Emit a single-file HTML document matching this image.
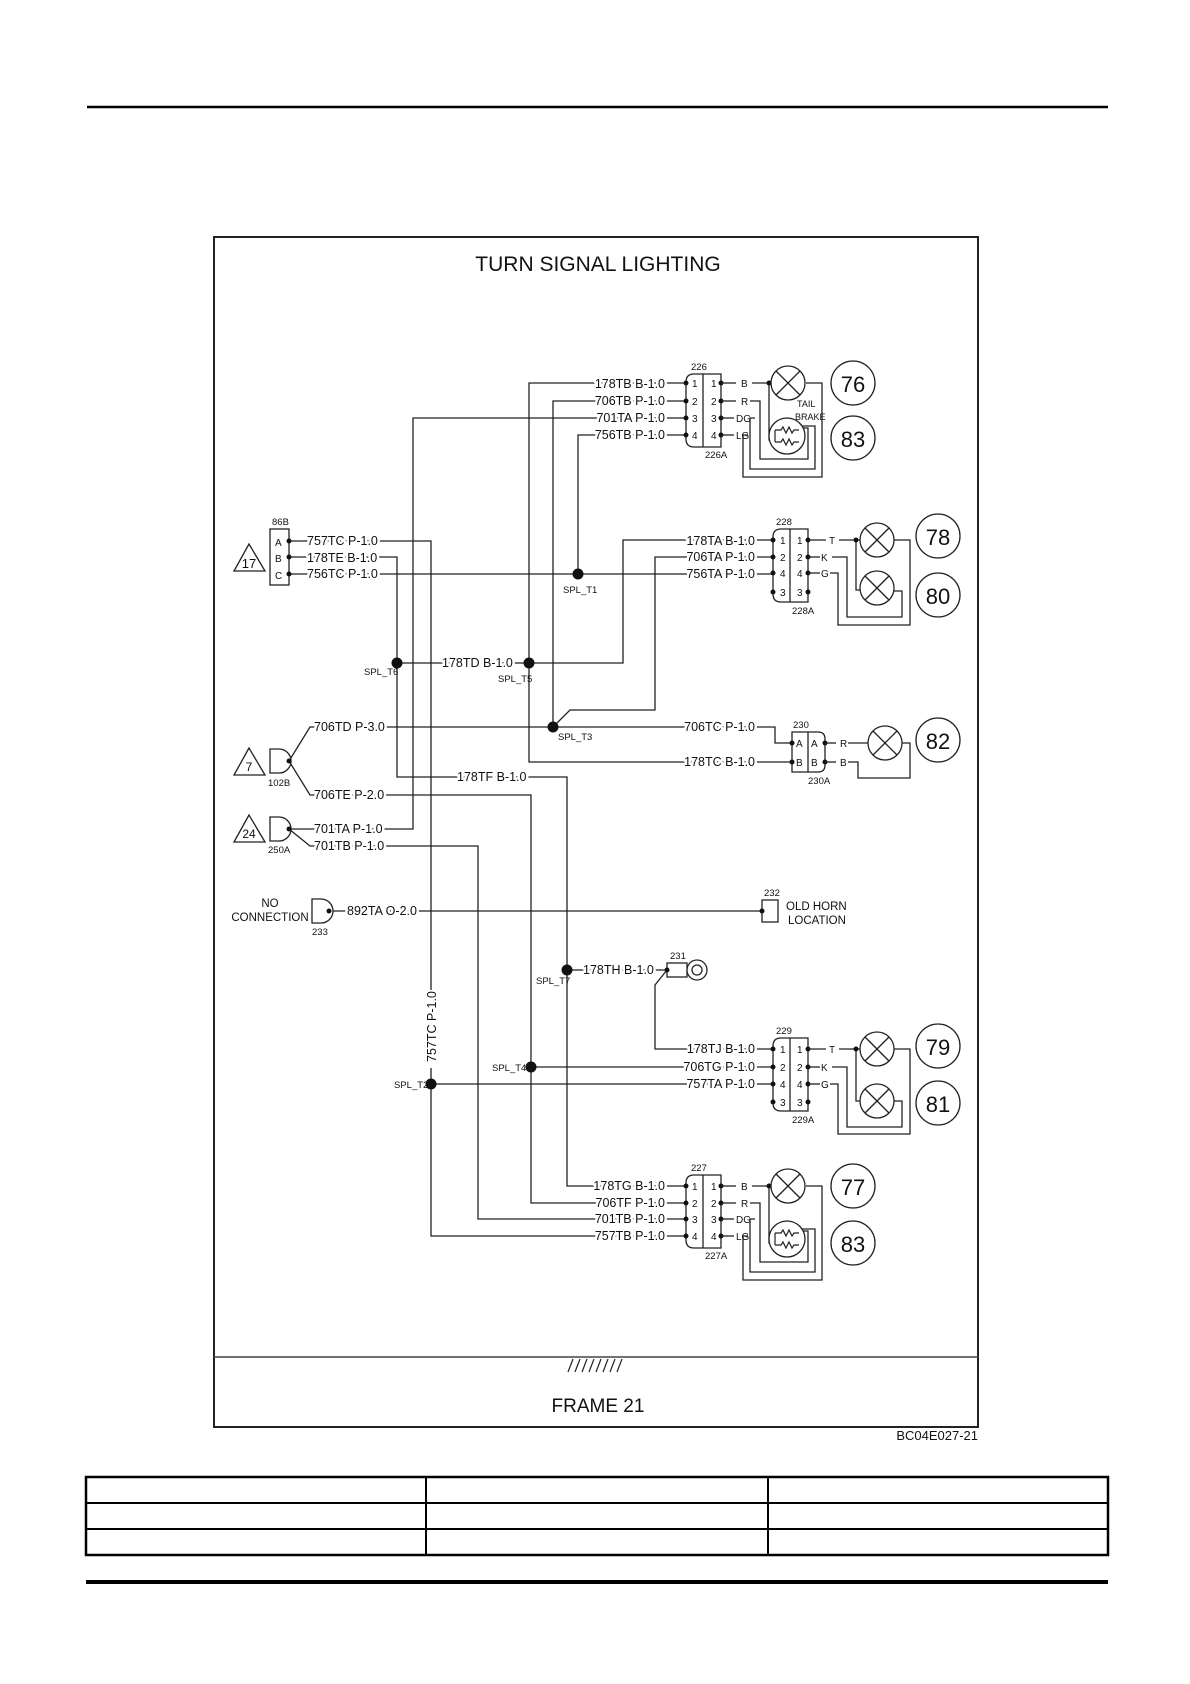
<!DOCTYPE html>
<html><head><meta charset="utf-8"><style>
html,body{margin:0;padding:0;background:#fff}
svg{display:block}
text{font-family:"Liberation Sans",sans-serif;fill:#111}
.w{fill:none;stroke:#222;stroke-width:1.3}
.lb{font-size:12.5px;paint-order:stroke;stroke:#fff;stroke-width:5px;stroke-linejoin:round}
.sm{font-size:9.5px}
.pn{font-size:10px}
</style></head><body>
<svg width="1190" height="1684" viewBox="0 0 1190 1684" xmlns="http://www.w3.org/2000/svg">
<line x1="87" y1="107" x2="1108" y2="107" stroke="#000" stroke-width="2.5"/>
<rect x="214" y="237" width="764" height="1190" fill="none" stroke="#222" stroke-width="2"/>
<line x1="214" y1="1357" x2="978" y2="1357" stroke="#444" stroke-width="1.5"/>
<text x="598" y="271" font-size="21" text-anchor="middle">TURN SIGNAL LIGHTING</text>
<text x="598" y="1412" font-size="19" text-anchor="middle">FRAME 21</text>
<text x="978" y="1440" font-size="13" text-anchor="end">BC04E027-21</text>
<g stroke="#222" stroke-width="1.2">
<line x1="568" y1="1372" x2="573" y2="1359"/><line x1="575" y1="1372" x2="580" y2="1359"/><line x1="582" y1="1372" x2="587" y2="1359"/><line x1="589" y1="1372" x2="594" y2="1359"/><line x1="596" y1="1372" x2="601" y2="1359"/><line x1="603" y1="1372" x2="608" y2="1359"/><line x1="610" y1="1372" x2="615" y2="1359"/><line x1="617" y1="1372" x2="622" y2="1359"/>
</g>

<g class="w">
<polyline points="289,541 431,541 431,990"/>
<polyline points="431,1068 431,1236 687,1236"/>
<polyline points="289,557 397,557 397,777 567,777 567,1186 687,1186"/>
<polyline points="567,970 667,970"/>
<polyline points="667,970 655,985 655,1049 773,1049"/>
<polyline points="289,574 773,574"/>
<polyline points="686,418 413,418 413,829 289,829"/>
<polyline points="686,383 529,383 529,762 792,762"/>
<polyline points="397,663 623,663 623,540 773,540"/>
<polyline points="686,401 553,401 553,727"/>
<polyline points="289,761 310,727 760,727 775,727 775,743 792,743"/>
<polyline points="553,727 570,710 655,710 655,557 773,557"/>
<polyline points="686,435 578,435 578,574"/>
<polyline points="289,761 310,795 531,795 531,1203 687,1203"/>
<polyline points="531,1067 773,1067"/>
<polyline points="289,829 310,846 478,846 478,1219 687,1219"/>
<polyline points="329,911 762,911"/>
<polyline points="431,1084 773,1084"/>
</g>

<g fill="#111">
<circle cx="578" cy="574" r="5.5"/><circle cx="397" cy="663" r="5.5"/><circle cx="529" cy="663" r="5.5"/>
<circle cx="553" cy="727" r="5.5"/><circle cx="567" cy="970" r="5.5"/><circle cx="531" cy="1067" r="5.5"/>
<circle cx="431" cy="1084" r="5.5"/>
</g>
<g class="sm">
<text x="563" y="593">SPL_T1</text><text x="364" y="675">SPL_T6</text><text x="498" y="682">SPL_T5</text>
<text x="558" y="740">SPL_T3</text><text x="536" y="984">SPL_T7</text><text x="492" y="1071">SPL_T4</text><text x="394" y="1088">SPL_T2</text>
</g>

<g class="lb">
<text x="665" y="388" text-anchor="end">178TB B-1.0</text>
<text x="665" y="405" text-anchor="end">706TB P-1.0</text>
<text x="665" y="422" text-anchor="end">701TA P-1.0</text>
<text x="665" y="439" text-anchor="end">756TB P-1.0</text>
<text x="307" y="545">757TC P-1.0</text>
<text x="307" y="562">178TE B-1.0</text>
<text x="307" y="578">756TC P-1.0</text>
<text x="755" y="545" text-anchor="end">178TA B-1.0</text>
<text x="755" y="561" text-anchor="end">706TA P-1.0</text>
<text x="755" y="578" text-anchor="end">756TA P-1.0</text>
<text x="442" y="667">178TD B-1.0</text>
<text x="314" y="731">706TD P-3.0</text>
<text x="755" y="731" text-anchor="end">706TC P-1.0</text>
<text x="755" y="766" text-anchor="end">178TC B-1.0</text>
<text x="457" y="781">178TF B-1.0</text>
<text x="314" y="799">706TE P-2.0</text>
<text x="314" y="833">701TA P-1.0</text>
<text x="314" y="850">701TB P-1.0</text>
<text x="347" y="915">892TA O-2.0</text>
<text x="583" y="974">178TH B-1.0</text>
<text x="755" y="1053" text-anchor="end">178TJ B-1.0</text>
<text x="755" y="1071" text-anchor="end">706TG P-1.0</text>
<text x="755" y="1088" text-anchor="end">757TA P-1.0</text>
<text x="665" y="1190" text-anchor="end">178TG B-1.0</text>
<text x="665" y="1207" text-anchor="end">706TF P-1.0</text>
<text x="665" y="1223" text-anchor="end">701TB P-1.0</text>
<text x="665" y="1240" text-anchor="end">757TB P-1.0</text>
</g>
<text x="0" y="0" font-size="12.5" transform="translate(436,1062) rotate(-90)">757TC P-1.0</text>

<rect x="270" y="529" width="19" height="56" fill="#fff" stroke="#222" stroke-width="1.3"/>
<text x="272" y="525" class="sm">86B</text>
<text x="275" y="546" class="pn">A</text><text x="275" y="562" class="pn">B</text><text x="275" y="579" class="pn">C</text>
<g fill="#111"><circle cx="289" cy="541" r="2.5"/><circle cx="289" cy="557" r="2.5"/><circle cx="289" cy="574" r="2.5"/></g>
<polygon points="249,544 234,571 265,571" fill="none" stroke="#222" stroke-width="1.3"/>
<text x="249" y="568" font-size="13" text-anchor="middle">17</text>

<g fill="#fff" stroke="#222" stroke-width="1.3">
<path d="M270,749 h9 a12,12 0 0 1 0,24 h-9 z"/>
<path d="M270,817 h9 a12,12 0 0 1 0,24 h-9 z"/>
<path d="M312,899 h9 a12,12 0 0 1 0,24 h-9 z"/>
<polygon points="249,748 234,775 265,775"/>
<polygon points="249,815 234,842 265,842"/>
</g>
<g fill="#111"><circle cx="289" cy="761" r="2.5"/><circle cx="289" cy="829" r="2.5"/><circle cx="329" cy="911" r="2.5"/></g>
<text x="249" y="771" font-size="12" text-anchor="middle">7</text>
<text x="249" y="838" font-size="12" text-anchor="middle">24</text>
<text x="268" y="786" class="sm">102B</text><text x="268" y="853" class="sm">250A</text><text x="312" y="935" class="sm">233</text>
<text x="270" y="907" font-size="11.5" text-anchor="middle">NO</text>
<text x="270" y="921" font-size="11.5" text-anchor="middle">CONNECTION</text>

<rect x="762" y="900" width="16" height="22" fill="#fff" stroke="#222" stroke-width="1.3"/>
<circle cx="762" cy="911" r="2.5" fill="#111"/>
<text x="764" y="896" class="sm">232</text>
<text x="786" y="910" font-size="11.5">OLD HORN</text>
<text x="788" y="924" font-size="11.5">LOCATION</text>

<rect x="667" y="963" width="20" height="14" fill="#fff" stroke="#222" stroke-width="1.3"/>
<circle cx="697" cy="970" r="10" fill="#fff" stroke="#222" stroke-width="1.3"/>
<circle cx="697" cy="970" r="5" fill="none" stroke="#222" stroke-width="1.3"/>
<circle cx="667" cy="970" r="2.5" fill="#111"/>
<text x="670" y="959" class="sm">231</text>

<defs>
<g id="c4">
<path d="M8,0 H35 V73 H8 Q0,73 0,65 V8 Q0,0 8,0 Z" fill="#fff" stroke="#222" stroke-width="1.3"/>
<line x1="17" y1="0" x2="17" y2="73" stroke="#222" stroke-width="1.3"/>
</g>
</defs>

<use href="#c4" x="686" y="374"/>
<text x="691" y="370" class="sm">226</text><text x="705" y="458" class="sm">226A</text>
<g class="pn"><text x="692" y="387">1</text><text x="692" y="405">2</text><text x="692" y="422">3</text><text x="692" y="439">4</text>
<text x="711" y="387">1</text><text x="711" y="405">2</text><text x="711" y="422">3</text><text x="711" y="439">4</text></g>
<g fill="#111"><circle cx="686" cy="383" r="2.5"/><circle cx="686" cy="401" r="2.5"/><circle cx="686" cy="418" r="2.5"/><circle cx="686" cy="435" r="2.5"/>
<circle cx="721" cy="383" r="2.5"/><circle cx="721" cy="401" r="2.5"/><circle cx="721" cy="418" r="2.5"/><circle cx="721" cy="435" r="2.5"/></g>

<use href="#c4" x="686" y="1175"/>
<text x="691" y="1171" class="sm">227</text><text x="705" y="1259" class="sm">227A</text>
<g class="pn"><text x="692" y="1190">1</text><text x="692" y="1207">2</text><text x="692" y="1223">3</text><text x="692" y="1240">4</text>
<text x="711" y="1190">1</text><text x="711" y="1207">2</text><text x="711" y="1223">3</text><text x="711" y="1240">4</text></g>
<g fill="#111"><circle cx="686" cy="1186" r="2.5"/><circle cx="686" cy="1203" r="2.5"/><circle cx="686" cy="1219" r="2.5"/><circle cx="686" cy="1236" r="2.5"/>
<circle cx="721" cy="1186" r="2.5"/><circle cx="721" cy="1203" r="2.5"/><circle cx="721" cy="1219" r="2.5"/><circle cx="721" cy="1236" r="2.5"/></g>

<use href="#c4" x="773" y="529"/>
<text x="776" y="525" class="sm">228</text><text x="792" y="614" class="sm">228A</text>
<g class="pn"><text x="780" y="544">1</text><text x="780" y="561">2</text><text x="780" y="577">4</text><text x="780" y="596">3</text>
<text x="797" y="544">1</text><text x="797" y="561">2</text><text x="797" y="577">4</text><text x="797" y="596">3</text></g>
<g fill="#111"><circle cx="773" cy="540" r="2.5"/><circle cx="773" cy="557" r="2.5"/><circle cx="773" cy="573" r="2.5"/><circle cx="773" cy="592" r="2.5"/>
<circle cx="808" cy="540" r="2.5"/><circle cx="808" cy="557" r="2.5"/><circle cx="808" cy="573" r="2.5"/><circle cx="808" cy="592" r="2.5"/></g>

<use href="#c4" x="773" y="1038"/>
<text x="776" y="1034" class="sm">229</text><text x="792" y="1123" class="sm">229A</text>
<g class="pn"><text x="780" y="1053">1</text><text x="780" y="1071">2</text><text x="780" y="1088">4</text><text x="780" y="1106">3</text>
<text x="797" y="1053">1</text><text x="797" y="1071">2</text><text x="797" y="1088">4</text><text x="797" y="1106">3</text></g>
<g fill="#111"><circle cx="773" cy="1049" r="2.5"/><circle cx="773" cy="1067" r="2.5"/><circle cx="773" cy="1084" r="2.5"/><circle cx="773" cy="1102" r="2.5"/>
<circle cx="808" cy="1049" r="2.5"/><circle cx="808" cy="1067" r="2.5"/><circle cx="808" cy="1084" r="2.5"/><circle cx="808" cy="1102" r="2.5"/></g>

<path d="M792,732 H818 Q825,732 825,739 V765 Q825,772 818,772 H792 Z" fill="#fff" stroke="#222" stroke-width="1.3"/>
<line x1="808" y1="732" x2="808" y2="772" stroke="#222" stroke-width="1.3"/>
<text x="793" y="728" class="sm">230</text><text x="808" y="784" class="sm">230A</text>
<g class="pn"><text x="796" y="747">A</text><text x="796" y="766">B</text><text x="811" y="747">A</text><text x="811" y="766">B</text></g>
<g fill="#111"><circle cx="792" cy="743" r="2.5"/><circle cx="792" cy="762" r="2.5"/><circle cx="825" cy="743" r="2.5"/><circle cx="825" cy="762" r="2.5"/></g>

<defs>
<g id="lx"><circle r="17" fill="#fff" stroke="#222" stroke-width="1.3"/><line x1="-12" y1="-12" x2="12" y2="12" stroke="#222" stroke-width="1.3"/><line x1="12" y1="-12" x2="-12" y2="12" stroke="#222" stroke-width="1.3"/></g>
<g id="lr"><circle r="18" fill="#fff" stroke="#222" stroke-width="1.3"/>
<path d="M-12,-6 V6 M-12,-6 H-6 l2,-3 l3,6 l3,-6 l3,6 l2,-3 H12 M-12,6 H-6 l2,-3 l3,6 l3,-6 l3,6 l2,-3 H12" fill="none" stroke="#222" stroke-width="1.2"/></g>
<g id="rc"><circle r="22" fill="#fff" stroke="#222" stroke-width="1.3"/></g>
</defs>

<g class="w">
<polyline points="721,383 736,383"/><polyline points="752,383 788,383"/>
<polyline points="769,383 769,440 776,440"/>
<polyline points="721,401 736,401"/><polyline points="750,401 760,401 760,459 808,459 808,428 800,428"/>
<polyline points="721,418 734,418"/><polyline points="755,418 750,418 750,469 815,469 815,426 800,426"/>
<polyline points="721,435 734,435"/><polyline points="748,435 743,435 743,477 822,477 822,383 806,383"/>
</g>
<circle cx="769" cy="383" r="2.5" fill="#111"/>
<use href="#lx" x="788" y="383"/><use href="#lr" x="787" y="436"/>
<g class="pn"><text x="741" y="387">B</text><text x="741" y="405">R</text><text x="736" y="422">DG</text><text x="736" y="439">LG</text></g>
<text x="797" y="407" font-size="9">TAIL</text><text x="795" y="420" font-size="9">BRAKE</text>
<use href="#rc" x="853" y="383"/><text x="853" y="392" font-size="22" text-anchor="middle">76</text>
<use href="#rc" x="853" y="438"/><text x="853" y="447" font-size="22" text-anchor="middle">83</text>

<g class="w">
<polyline points="721,1186 736,1186"/><polyline points="752,1186 788,1186"/>
<polyline points="769,1186 769,1243 776,1243"/>
<polyline points="721,1203 736,1203"/><polyline points="750,1203 760,1203 760,1262 808,1262 808,1231 800,1231"/>
<polyline points="721,1219 734,1219"/><polyline points="755,1219 750,1219 750,1272 815,1272 815,1229 800,1229"/>
<polyline points="721,1236 734,1236"/><polyline points="748,1236 743,1236 743,1280 822,1280 822,1186 806,1186"/>
</g>
<circle cx="769" cy="1186" r="2.5" fill="#111"/>
<use href="#lx" x="788" y="1186"/><use href="#lr" x="787" y="1239"/>
<g class="pn"><text x="741" y="1190">B</text><text x="741" y="1207">R</text><text x="736" y="1223">DG</text><text x="736" y="1240">LG</text></g>
<use href="#rc" x="853" y="1186"/><text x="853" y="1195" font-size="22" text-anchor="middle">77</text>
<use href="#rc" x="853" y="1243"/><text x="853" y="1252" font-size="22" text-anchor="middle">83</text>

<g class="w">
<polyline points="808,540 826,540"/><polyline points="839,540 877,540"/>
<polyline points="856,540 856,590 860,590"/>
<polyline points="808,557 820,557"/><polyline points="832,557 847,557 847,617 902,617 902,591 894,591"/>
<polyline points="808,573 820,573"/><polyline points="830,573 838,573 838,625 910,625 910,540 894,540"/>
</g>
<circle cx="856" cy="540" r="2.5" fill="#111"/>
<use href="#lx" x="877" y="540"/><use href="#lx" x="877" y="588"/>
<g class="pn"><text x="829" y="544">T</text><text x="821" y="561">K</text><text x="821" y="577">G</text></g>
<use href="#rc" x="938" y="536"/><text x="938" y="545" font-size="22" text-anchor="middle">78</text>
<use href="#rc" x="938" y="595"/><text x="938" y="604" font-size="22" text-anchor="middle">80</text>

<g class="w">
<polyline points="808,1049 826,1049"/><polyline points="839,1049 877,1049"/>
<polyline points="856,1049 856,1101 860,1101"/>
<polyline points="808,1067 820,1067"/><polyline points="832,1067 847,1067 847,1127 902,1127 902,1101 894,1101"/>
<polyline points="808,1084 820,1084"/><polyline points="830,1084 838,1084 838,1134 910,1134 910,1049 894,1049"/>
</g>
<circle cx="856" cy="1049" r="2.5" fill="#111"/>
<use href="#lx" x="877" y="1049"/><use href="#lx" x="877" y="1101"/>
<g class="pn"><text x="829" y="1053">T</text><text x="821" y="1071">K</text><text x="821" y="1088">G</text></g>
<use href="#rc" x="938" y="1046"/><text x="938" y="1055" font-size="22" text-anchor="middle">79</text>
<use href="#rc" x="938" y="1103"/><text x="938" y="1112" font-size="22" text-anchor="middle">81</text>

<g class="w">
<polyline points="825,743 836,743"/><polyline points="848,743 868,743"/>
<polyline points="825,762 836,762"/><polyline points="848,762 858,762 858,778 910,778 910,743 902,743"/>
</g>
<use href="#lx" x="885" y="743"/>
<g class="pn"><text x="840" y="747">R</text><text x="840" y="766">B</text></g>
<use href="#rc" x="938" y="740"/><text x="938" y="749" font-size="22" text-anchor="middle">82</text>

<g stroke="#000" fill="none">
<rect x="86" y="1477" width="1022" height="78" stroke-width="2.5"/>
<line x1="86" y1="1503" x2="1108" y2="1503" stroke-width="2"/>
<line x1="86" y1="1529" x2="1108" y2="1529" stroke-width="2"/>
<line x1="426" y1="1477" x2="426" y2="1555" stroke-width="2"/>
<line x1="768" y1="1477" x2="768" y2="1555" stroke-width="2"/>
<line x1="86" y1="1582" x2="1108" y2="1582" stroke-width="4"/>
</g>
</svg>
</body></html>
